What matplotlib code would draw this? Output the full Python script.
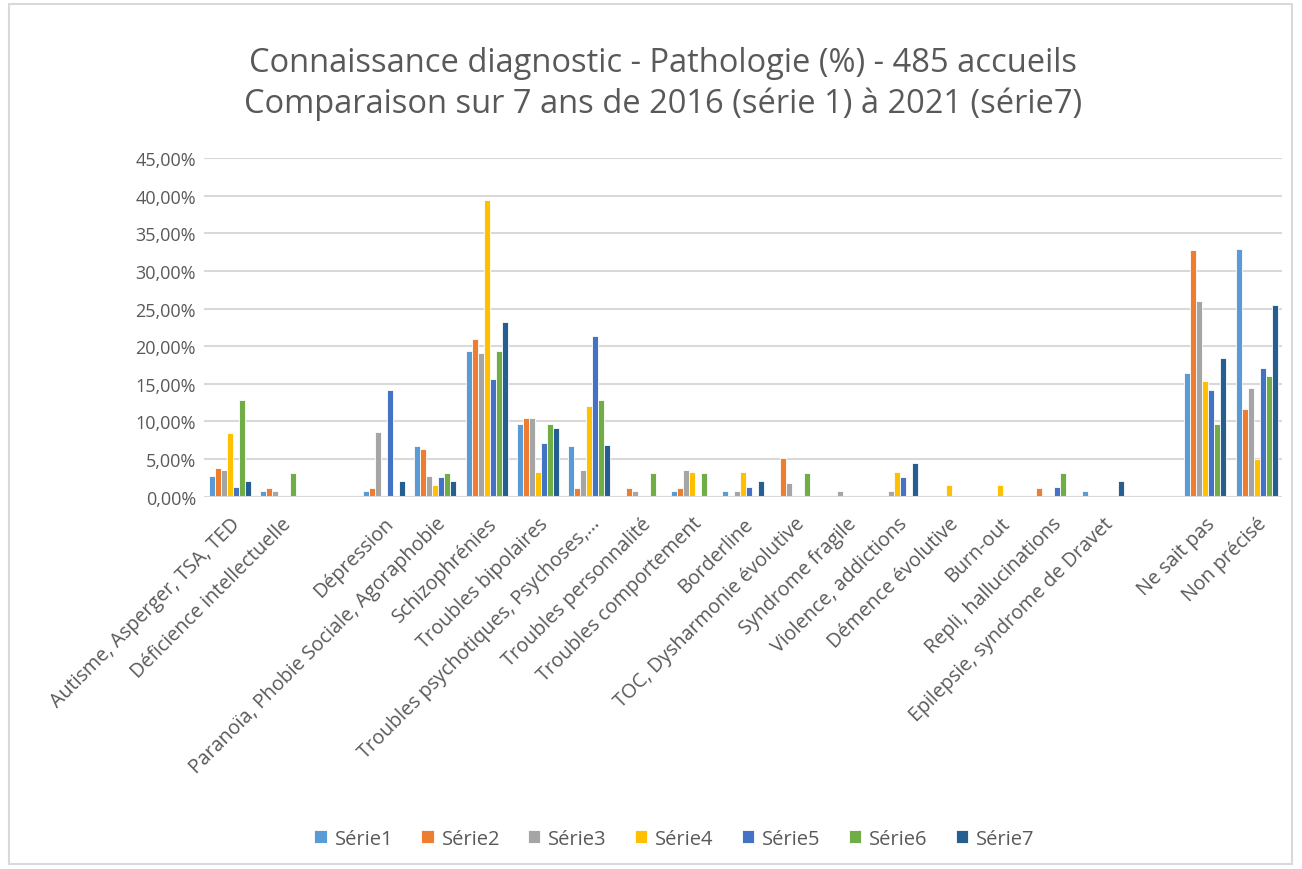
import numpy as np
import matplotlib.pyplot as plt
from matplotlib.patches import Rectangle
from matplotlib.ticker import FuncFormatter

plt.rcParams['font.family'] = ['Open Sans', 'DejaVu Sans']

# Categories (empty strings are blank slots on the axis)
categories = ["Autisme, Asperger, TSA, TED", "Déficience intellectuelle", "",
              "Dépression", "Paranoïa, Phobie Sociale, Agoraphobie", "Schizophrénies",
              "Troubles bipolaires", "Troubles psychotiques, Psychoses,…",
              "Troubles personnalité", "Troubles comportement", "Borderline",
              "TOC, Dysharmonie évolutive", "Syndrome fragile", "Violence, addictions",
              "Démence évolutive", "Burn-out", "Repli, hallucinations",
              "Epilepsie, syndrome de Dravet", "", "Ne sait pas", "Non précisé"]

series_names = ["Série1", "Série2", "Série3", "Série4", "Série5", "Série6", "Série7"]

serie1 = [2.8, 0.75, 0, 0.75, 6.7, 19.3, 9.6, 6.7, 0, 0.75, 0.75, 0, 0, 0, 0, 0, 0, 0.75, 0, 16.4, 32.9]
serie2 = [3.8, 1.1, 0, 1.1, 6.4, 21.0, 10.5, 1.1, 1.1, 1.1, 0, 5.2, 0, 0, 0, 0, 1.1, 0, 0, 32.8, 11.6]
serie3 = [3.6, 0.75, 0, 8.6, 2.8, 19.1, 10.5, 3.6, 0.75, 3.6, 0.75, 1.8, 0.75, 0.75, 0, 0, 0, 0, 0, 26.0, 14.4]
serie4 = [8.4, 0, 0, 0, 1.6, 39.5, 3.3, 12.0, 0, 3.3, 3.3, 0, 0, 3.3, 1.6, 1.6, 0, 0, 0, 15.4, 5.0]
serie5 = [1.25, 0, 0, 14.2, 2.6, 15.6, 7.1, 21.3, 0, 0, 1.25, 0, 0, 2.6, 0, 0, 1.25, 0, 0, 14.2, 17.1]
serie6 = [12.8, 3.1, 0, 0, 3.1, 19.3, 9.6, 12.8, 3.1, 3.1, 0, 3.1, 0, 0, 0, 0, 3.1, 0, 0, 9.6, 16.1]
serie7 = [2.1, 0, 0, 2.1, 2.1, 23.25, 9.1, 6.9, 0, 0, 2.1, 0, 0, 4.5, 0, 0, 0, 2.1, 0, 18.5, 25.5]

colors = ["#5B9BD5", "#ED7D31", "#A5A5A5", "#FFC000", "#4472C4", "#70AD47", "#255E91"]
all_series = [serie1, serie2, serie3, serie4, serie5, serie6, serie7]

fig = plt.figure(figsize=(13.02, 8.7), dpi=100)
ax = fig.add_axes([0.157, 0.428, 0.828, 0.389])

x = np.arange(len(categories))
pitch = 0.117
for i, (vals, col, name) in enumerate(zip(all_series, colors, series_names)):
    ax.bar(x + (i - 3) * pitch, vals, width=pitch, color=col, edgecolor='white',
           linewidth=0.6, label=name, zorder=3)

ax.set_xlim(-0.5, len(categories) - 0.5)
ax.set_ylim(0, 45)
ax.set_yticks(np.arange(0, 46, 5))
ax.yaxis.set_major_formatter(FuncFormatter(lambda v, p: f"{v:.2f}%".replace(".", ",")))
ax.grid(axis='y', color='#D9D9D9', linewidth=1.5, zorder=0)
for s in ax.spines.values():
    s.set_visible(False)
ax.axhline(0, color='#D9D9D9', linewidth=1.5, zorder=4)
ax.tick_params(axis='y', length=0, labelsize=13, labelcolor='#595959', pad=6)
ax.tick_params(axis='x', length=0, labelsize=14.2, labelcolor='#595959', pad=12)
ax.set_xticks(x)
ax.set_xticklabels(categories, rotation=45, ha='right', rotation_mode='anchor')

fig.text(0.509, 0.927, "Connaissance diagnostic - Pathologie (%) - 485 accueils",
         ha='center', va='center', fontsize=23.5, color='#595959')
fig.text(0.509, 0.880, "Comparaison sur 7 ans de 2016 (série 1) à 2021 (série7)",
         ha='center', va='center', fontsize=23.5, color='#595959')

fig.legend(loc='center', bbox_to_anchor=(0.518, 0.035), ncol=7, frameon=False,
           fontsize=14.5, handlelength=0.6, handleheight=0.6, columnspacing=1.4,
           handletextpad=0.4, labelcolor='#595959')

fig.patches.append(Rectangle((0.007, 0.006), 0.985, 0.988, transform=fig.transFigure,
                             fill=False, edgecolor='#D9D9D9', linewidth=1.5))

fig.savefig('out.png', dpi=100)
